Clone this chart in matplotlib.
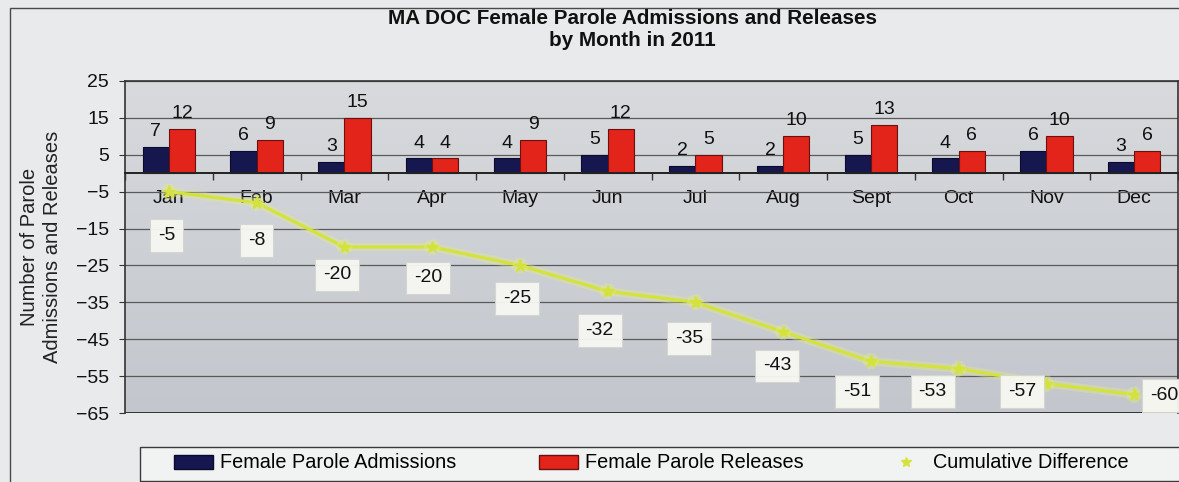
import matplotlib
matplotlib.use('Agg')
import matplotlib.pyplot as plt
import matplotlib.patheffects as pe
import numpy as np
from matplotlib.patches import Rectangle, Patch
from matplotlib.lines import Line2D
from matplotlib.colors import LinearSegmentedColormap

months = ['Jan', 'Feb', 'Mar', 'Apr', 'May', 'Jun', 'Jul', 'Aug', 'Sept', 'Oct', 'Nov', 'Dec']
admissions = [7, 6, 3, 4, 4, 5, 2, 2, 5, 4, 6, 3]
releases = [12, 9, 15, 4, 9, 12, 5, 10, 13, 6, 10, 6]
cumulative = [-5, -8, -20, -20, -25, -32, -35, -43, -51, -53, -57, -60]
yticks = [25, 15, 5, -5, -15, -25, -35, -45, -55, -65]

title_lines = ['MA DOC Female Parole Admissions and Releases', 'by Month in 2011']
ylabel = 'Number of Parole\nAdmissions and Releases'
legend_labels = ['Female Parole Admissions', 'Female Parole Releases', 'Cumulative Difference']

# label offsets for cumulative labels (pixels: dx, dy downward)
label_offsets_px = [(-2, 44), (0, 38), (-7, 28), (-4, 31), (-3, 33), (-8, 39),
                    (-6, 36), (-6, 34), (-14, 30), (-26, 23), (-24, 8), (30, 1)]

plt.rcParams['font.family'] = ['Liberation Sans', 'DejaVu Sans']

W, H = 1179, 482
fig = plt.figure(figsize=(W / 100, H / 100), dpi=100, facecolor='#e8eaec')

# outer chart frame
fig.patches.append(Rectangle((10 / W, -0.05), 1.1, 1 - 8 / H + 0.05, transform=fig.transFigure,
                             fill=False, ec='#4a4a4a', lw=1.0))

ax = fig.add_axes([125 / W, 1 - 413 / H, 1053 / W, 332 / H])

# gradient background of plot area
grad = np.linspace(0, 1, 256).reshape(-1, 1)
cmap = LinearSegmentedColormap.from_list('bg', ['#c3c7cd', '#cdd0d5', '#d8dadd'])
ax.imshow(grad, extent=[0, 1, 0, 1], transform=ax.transAxes, origin='lower',
          cmap=cmap, aspect='auto', zorder=0)

x = np.arange(len(months))
w = 0.3
b1 = ax.bar(x - w / 2, admissions, w, color='#17174f', edgecolor='#0a0a2e', lw=0.8, zorder=3)
b2 = ax.bar(x + w / 2, releases, w, color='#e2241a', edgecolor='#6a1010', lw=0.8, zorder=3)
ax.bar_label(b1, padding=5, fontsize=14, color='#111111')
ax.bar_label(b2, padding=5, fontsize=14, color='#111111')

line_color = '#d4e23c'
ax.plot(x, cumulative, color=line_color, lw=2.2, marker='*', ms=9, zorder=4,
        path_effects=[pe.Stroke(linewidth=6, foreground='#e4ee80', alpha=0.35), pe.Normal()])

for xi, v, (dx, dy) in zip(x, cumulative, label_offsets_px):
    ax.annotate(str(v), (xi, v), xytext=(dx * 0.72, -dy * 0.72), textcoords='offset points',
                ha='center', va='center', fontsize=14, color='#111111', zorder=6,
                bbox=dict(boxstyle='square,pad=0.4', fc='#f7f8f2', ec='#d4d6d0', lw=0.8, alpha=0.95))

ax.set_xlim(-0.5, len(months) - 0.5)
ax.set_ylim(-65, 25)
ax.set_yticks(yticks)
ax.grid(axis='y', color='#5a5a5a', lw=0.9, zorder=1)
ax.set_axisbelow(True)

ax.spines['bottom'].set_position(('data', 0))
ax.spines['bottom'].set_color('#222222')
ax.spines['bottom'].set_linewidth(1.4)
ax.spines['bottom'].set_zorder(3.5)
for s in ['left', 'top', 'right']:
    ax.spines[s].set_color('#333333')
    ax.spines[s].set_linewidth(1.2)
ax.axhline(-65, color='#333333', lw=1.4, zorder=2)

ax.set_xticks(x)
ax.set_xticklabels(months, fontsize=14, color='#111111')
ax.set_xticks(np.arange(-0.5, len(months), 1.0), minor=True)
ax.tick_params(axis='x', which='major', length=0, pad=12)
ax.tick_params(axis='x', which='minor', length=5, direction='out', color='#333333', width=1)
ax.tick_params(axis='y', length=4.5, direction='out', color='#333333', labelsize=14,
               labelcolor='#111111', pad=7)

# title
fig.text(632 / W, 1 - 18 / H, title_lines[0], ha='center', va='center', fontsize=14.9, weight='bold', color='#111111')
fig.text(632 / W, 1 - 40 / H, title_lines[1], ha='center', va='center', fontsize=14.9, weight='bold', color='#111111')

# y label
fig.text(41 / W, 1 - 247 / H, ylabel, rotation=90, ha='center', va='center', fontsize=14.5,
         linespacing=1.32, color='#222222', multialignment='center')

# legend box
fig.patches.append(Rectangle((140 / W, 1 - 481 / H), 1.0, 34 / H, transform=fig.transFigure,
                             fc='#f1f2f2', ec='#3a3a3a', lw=1.0, zorder=1))
handles = [Patch(fc='#17174f', ec='#0a0a2e'), Patch(fc='#e2241a', ec='#6a1010'),
           Line2D([], [], color=line_color, marker='*', ms=7, ls='none')]
fig.legend(handles, legend_labels, loc='center left', bbox_to_anchor=(174 / W, 1 - 463 / H),
           ncol=3, frameon=False, fontsize=14.3, handlelength=1.95, handletextpad=0.35,
           columnspacing=4.2, borderpad=0, borderaxespad=0)

fig.savefig('out.png', dpi=100, facecolor=fig.get_facecolor())
